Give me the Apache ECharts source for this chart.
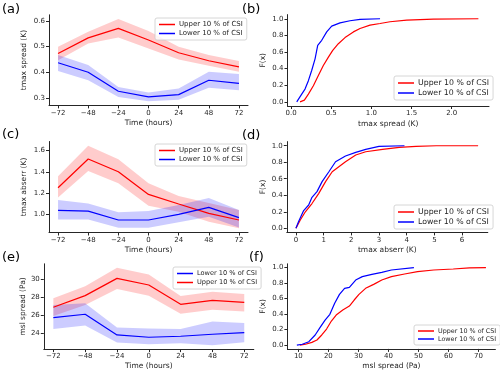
<!DOCTYPE html>
<html>
<head>
<meta charset="utf-8">
<script src="https://cdn.jsdelivr.net/npm/echarts@6/dist/echarts.min.js"></script>
<style>
  html, body { margin: 0; padding: 0; background: #fff; }
  #chart { width: 500px; height: 374px; }
</style>
</head>
<body>
<div id="chart"></div>
<script>
// lead time of the composites
const hours = [-72, -48, -24, 0, 24, 48, 72]
const hourTicks = [-72, -48, -24, 0, 24, 48, 72]

// (a) tmax spread
const aUp = [0.473, 0.534, 0.571, 0.526, 0.476, 0.445, 0.421]
const aUpHi = [0.500, 0.558, 0.608, 0.561, 0.500, 0.467, 0.444]
const aUpLo = [0.447, 0.512, 0.536, 0.493, 0.450, 0.425, 0.402]
const aLow = [0.437, 0.400, 0.326, 0.304, 0.313, 0.369, 0.357]
const aLowHi = [0.467, 0.428, 0.343, 0.321, 0.337, 0.402, 0.393]
const aLowLo = [0.405, 0.369, 0.304, 0.287, 0.293, 0.340, 0.330]

// (c) tmax abserr
const cUp = [1.253, 1.522, 1.403, 1.190, 1.100, 1.012, 0.950]
const cUpHi = [1.360, 1.647, 1.520, 1.294, 1.175, 1.110, 1.044]
const cUpLo = [1.160, 1.410, 1.294, 1.084, 1.028, 0.934, 0.872]
const cLow = [1.040, 1.034, 0.950, 0.950, 1.003, 1.069, 0.972]
const cLowHi = [1.137, 1.106, 1.022, 1.034, 1.090, 1.156, 1.044]
const cLowLo = [0.956, 0.956, 0.878, 0.878, 0.928, 0.981, 0.881]

// (e) msl spread
const eUp = [26.87, 28.16, 30.07, 29.34, 27.20, 27.64, 27.42]
const eUpHi = [27.87, 29.19, 31.25, 30.50, 28.12, 28.60, 28.34]
const eUpLo = [25.90, 27.13, 28.90, 28.16, 26.17, 26.60, 26.40]
const eLow = [25.73, 26.10, 23.82, 23.56, 23.67, 23.89, 24.07]
const eLowHi = [27.13, 27.31, 24.63, 24.52, 24.48, 25.29, 25.14]
const eLowLo = [24.48, 24.85, 22.97, 22.79, 22.90, 22.68, 23.00]

// (b) CDF of tmax spread
const bUpX = [0.112, 0.166, 0.216, 0.278, 0.340, 0.402, 0.465, 0.519, 0.589, 0.672, 0.776, 0.859, 0.983, 1.108, 1.232, 1.440, 1.772, 2.332]
const bUpY = [0, 0.02, 0.093, 0.194, 0.316, 0.437, 0.538, 0.619, 0.70, 0.773, 0.842, 0.883, 0.923, 0.943, 0.964, 0.984, 0.996, 1.0]
const bLowX = [0.071, 0.133, 0.174, 0.216, 0.257, 0.299, 0.332, 0.382, 0.444, 0.506, 0.61, 0.734, 0.859, 1.108]
const bLowY = [0, 0.093, 0.154, 0.255, 0.377, 0.518, 0.68, 0.741, 0.842, 0.911, 0.951, 0.976, 0.992, 1.0]

// (d) CDF of tmax abserr
const dUpX = [0, 0.158, 0.34, 0.58, 0.82, 1.07, 1.31, 1.55, 1.79, 2.16, 2.52, 3.13, 3.73, 4.34, 5.07, 6.58]
const dUpY = [0, 0.1, 0.2, 0.30, 0.42, 0.565, 0.685, 0.746, 0.806, 0.887, 0.927, 0.956, 0.98, 0.992, 1.0, 1.0]
const dLowX = [0, 0.097, 0.279, 0.46, 0.58, 0.76, 0.945, 1.19, 1.43, 1.79, 2.16, 2.52, 3.0, 3.92]
const dLowY = [0, 0.081, 0.214, 0.282, 0.375, 0.444, 0.565, 0.685, 0.806, 0.875, 0.919, 0.956, 0.992, 1.0]

// (f) CDF of msl spread
const fUpX = [10.5, 12.4, 14.5, 16.2, 17.8, 19.4, 21.0, 22.6, 24.8, 27.0, 28.6, 30.2, 32.4, 35.1, 37.8, 41.0, 45.4, 49.7, 55.1, 61.6, 67.0, 72.5]
const fUpY = [0, 0.01, 0.034, 0.065, 0.13, 0.207, 0.31, 0.388, 0.453, 0.504, 0.582, 0.655, 0.733, 0.784, 0.84, 0.884, 0.918, 0.948, 0.97, 0.983, 0.997, 1.0]
const fLowX = [9.5, 11.3, 13.5, 15.6, 17.2, 18.9, 20.5, 22.1, 23.7, 25.4, 27.0, 29.1, 31.3, 34.5, 37.8, 41.0, 48.5]
const fLowY = [0, 0.01, 0.043, 0.13, 0.224, 0.323, 0.397, 0.539, 0.655, 0.733, 0.746, 0.84, 0.884, 0.914, 0.94, 0.97, 1.0]

const UPPER = 'Upper 10 % of CSI'
const LOWER = 'Lower 10 % of CSI'
const RED = '#ff0000'
const BLUE = '#0000ff'
const FONT = 'DejaVu Sans'
const INK = '#262626'

const zip = (xs, ys) => xs.map((x, i) => [x, ys[i]])
const minus = v => String(v).replace('-', '\u2212')

function axis(min, max, ticks, fmt, name, gap) {
  return {
    type: 'value', min, max,
    name, nameLocation: 'middle', nameGap: gap,
    nameTextStyle: { fontSize: 7.5, color: INK, fontFamily: FONT },
    splitLine: { show: false },
    axisLine: { onZero: false, lineStyle: { color: INK, width: 1 } },
    axisTick: { show: true, length: 3, customValues: ticks, lineStyle: { color: INK } },
    axisLabel: { customValues: ticks, formatter: fmt, fontSize: 7, color: INK, fontFamily: FONT, margin: 4 }
  }
}

function line(name, g, xs, ys, color) {
  return {
    type: 'line', name, xAxisIndex: g, yAxisIndex: g,
    data: zip(xs, ys), showSymbol: false, symbol: 'none',
    color, lineStyle: { color, width: 1.2 }, z: 3
  }
}

// shaded spread between lo and hi, one polygon per band
function band(g, lo, hi, color) {
  return {
    type: 'custom', name: 'band', xAxisIndex: g, yAxisIndex: g, silent: true, z: 1,
    data: hours.map((h, i) => [h, lo[i], hi[i]]),
    encode: { x: 0, y: [1, 2] },
    renderItem(params, api) {
      if (params.dataIndex !== 0) return
      const top = hours.map((h, i) => api.coord([h, hi[i]]))
      const bottom = hours.map((h, i) => api.coord([h, lo[i]])).reverse()
      return {
        type: 'polygon',
        shape: { points: top.concat(bottom) },
        style: { fill: color }
      }
    }
  }
}

function legend(left, top, size, names) {
  return {
    left, top, orient: 'vertical', data: names,
    icon: 'rect', itemWidth: 16, itemHeight: 1.5, itemGap: 2,
    padding: [3, 4], borderColor: '#cccccc', borderWidth: 0.8, borderRadius: 2,
    backgroundColor: 'rgba(255,255,255,0.8)', selectedMode: false,
    textStyle: { fontSize: size, color: INK, fontFamily: FONT, padding: [0, 0, 0, -1] }
  }
}

const panel = (text, left, top) => ({
  text, left, top, padding: 0,
  textStyle: { fontSize: 13, fontWeight: 'normal', color: '#000', fontFamily: FONT }
})

const f1 = v => v.toFixed(1)
const timeName = 'Time (hours)'
const redFill = 'rgba(255,0,0,0.2)'
const blueFill = 'rgba(0,0,255,0.2)'

const chart = echarts.init(document.getElementById('chart'), null, { renderer: 'canvas' })

chart.setOption({
  animation: false,
  backgroundColor: '#fff',
  title: [
    panel('(a)', 2, 3), panel('(b)', 242, 3),
    panel('(c)', 2, 128), panel('(d)', 242, 129),
    panel('(e)', 2, 251), panel('(f)', 249, 251)
  ],
  grid: [
    { left: 49, top: 14.8, width: 199, height: 90.6 },
    { left: 287.5, top: 14.6, width: 201.5, height: 91.4 },
    { left: 49, top: 141.5, width: 199, height: 91 },
    { left: 286.8, top: 141.6, width: 201, height: 90.8 },
    { left: 43.8, top: 263.8, width: 210, height: 85.3 },
    { left: 287.4, top: 263.8, width: 208, height: 85.1 }
  ],
  xAxis: [
    Object.assign(axis(-79.2, 79.2, hourTicks, minus, timeName, 14), { gridIndex: 0 }),
    Object.assign(axis(-0.044, 2.464, [0, 0.5, 1, 1.5, 2], f1, 'tmax spread (K)', 14), { gridIndex: 1 }),
    Object.assign(axis(-79.2, 79.2, hourTicks, minus, timeName, 14), { gridIndex: 2 }),
    Object.assign(axis(-0.33, 6.93, [0, 1, 2, 3, 4, 5, 6], v => String(v), 'tmax abserr (K)', 14), { gridIndex: 3 }),
    Object.assign(axis(-79.2, 79.2, hourTicks, minus, timeName, 13), { gridIndex: 4 }),
    Object.assign(axis(6.35, 75.65, [10, 20, 30, 40, 50, 60, 70], v => String(v), 'msl spread (Pa)', 13), { gridIndex: 5 })
  ],
  yAxis: [
    Object.assign(axis(0.271, 0.624, [0.3, 0.4, 0.5, 0.6], f1, 'tmax spread (K)', 21), { gridIndex: 0 }),
    Object.assign(axis(-0.05, 1.05, [0, 0.2, 0.4, 0.6, 0.8, 1.0], f1, 'F(x)', 20), { gridIndex: 1 }),
    Object.assign(axis(0.833, 1.686, [1.0, 1.2, 1.4, 1.6], f1, 'tmax abserr (K)', 21), { gridIndex: 2 }),
    Object.assign(axis(-0.05, 1.05, [0, 0.2, 0.4, 0.6, 0.8, 1.0], f1, 'F(x)', 20), { gridIndex: 3 }),
    Object.assign(axis(22.25, 31.68, [24, 26, 28, 30], v => String(v), 'msl spread (Pa)', 14), { gridIndex: 4 }),
    Object.assign(axis(-0.05, 1.05, [0, 0.2, 0.4, 0.6, 0.8, 1.0], f1, 'F(x)', 20), { gridIndex: 5 })
  ],
  legend: [
    legend(155, 18, 7, [UPPER, LOWER]),
    legend(394, 76, 7.8, [UPPER, LOWER]),
    legend(155, 144, 7, [UPPER, LOWER]),
    legend(394, 205, 7.8, [UPPER, LOWER]),
    legend(173, 267, 6.6, [LOWER, UPPER]),
    legend(414, 325, 6.4, [UPPER, LOWER])
  ],
  series: [
    band(0, aUpLo, aUpHi, redFill),
    band(0, aLowLo, aLowHi, blueFill),
    line(UPPER, 0, hours, aUp, RED),
    line(LOWER, 0, hours, aLow, BLUE),

    line(UPPER, 1, bUpX, bUpY, RED),
    line(LOWER, 1, bLowX, bLowY, BLUE),

    band(2, cUpLo, cUpHi, redFill),
    band(2, cLowLo, cLowHi, blueFill),
    line(UPPER, 2, hours, cUp, RED),
    line(LOWER, 2, hours, cLow, BLUE),

    line(UPPER, 3, dUpX, dUpY, RED),
    line(LOWER, 3, dLowX, dLowY, BLUE),

    band(4, eUpLo, eUpHi, redFill),
    band(4, eLowLo, eLowHi, blueFill),
    line(LOWER, 4, hours, eLow, BLUE),
    line(UPPER, 4, hours, eUp, RED),

    line(UPPER, 5, fUpX, fUpY, RED),
    line(LOWER, 5, fLowX, fLowY, BLUE)
  ]
})
</script>
</body>
</html>
